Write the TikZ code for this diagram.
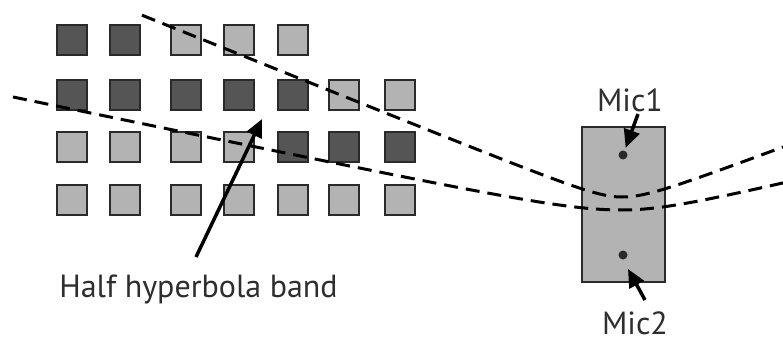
\documentclass[tikz,border=0pt]{standalone}
\usepackage{fontspec}
\setmainfont{PT Sans}
\usetikzlibrary{arrows.meta}
\definecolor{darkcell}{HTML}{555555}
\definecolor{lightcell}{HTML}{B3B3B3}
\definecolor{edgegray}{HTML}{2A2A2A}
\definecolor{textcol}{HTML}{2E2E2E}
\begin{document}
\begin{tikzpicture}[x=1pt,y=-1pt,
  cell/.style={draw=edgegray,line width=1.6pt,minimum size=29.5pt,inner sep=0pt},
  band/.style={line width=3pt,dash pattern=on 14pt off 8pt,black},
  lbl/.style={font=\fontsize{32}{36}\selectfont,text=textcol,inner sep=0pt},
  pointer/.style={line width=3.5pt,-{Triangle[length=18pt,width=16pt]}}]
\useasboundingbox (0,0) rectangle (783,342);
% grid of squares
\foreach \r/\y/\spec in {1/40/{darkcell,darkcell,lightcell,lightcell,lightcell},
                         2/95/{darkcell,darkcell,darkcell,darkcell,darkcell,lightcell,lightcell},
                         3/147/{lightcell,lightcell,lightcell,lightcell,darkcell,darkcell,darkcell},
                         4/200/{lightcell,lightcell,lightcell,lightcell,lightcell,lightcell,lightcell}}{
  \foreach \s [count=\c] in \spec {
    \pgfmathsetmacro\xx{{72,125,186,239,293,344,400}[\c-1]}
    \node[cell,fill=\s] (sq\r\c) at (\xx,\y) {};
  }
}
% phone box
\node[draw=edgegray,fill=lightcell,line width=1.4pt,minimum width=83pt,minimum height=155pt,inner sep=0pt] (phone) at (623.5,204.5) {};
% hyperbola band
\draw[band] plot[domain=142:622,samples=80] (\x,{197-100*(veclen(0.12,0.403*(\x-622)/100)-0.12)})
  -- plot[domain=622:783,samples=30] (\x,{197-100*(veclen(0.12,0.378*(\x-622)/100)-0.12)});
\draw[band] plot[domain=13:622,samples=90] (\x,{210-100*(veclen(0.1447,0.208*(\x-622)/100)-0.1447)})
  -- plot[domain=622:783,samples=30] (\x,{210-100*(veclen(0.1447,0.242*(\x-622)/100)-0.1447)});
% microphones
\node[circle,fill=edgegray,minimum size=9pt,inner sep=0pt] (m1) at (623,155) {};
\node[circle,fill=edgegray,minimum size=9pt,inner sep=0pt] (m2) at (623,255) {};
% labels
\node[lbl] (t1) at (630,100) {Mic1};
\node[lbl] (t2) at (635,323) {Mic2};
\node[lbl,anchor=base] (bandlbl) at (198.5,297) {Half hyperbola band};
% pointers
\coordinate (a1s) at (638,114);
\coordinate (a2s) at (645,300);
\coordinate (a2t) at (628,269);
\coordinate (bs) at (196,257);
\coordinate (bt) at (262,119);
\draw[pointer,shorten >=3pt] (a1s) -- (m1);
\draw[pointer] (a2s) -- (a2t);
\draw[pointer] (bs) -- (bt);
\end{tikzpicture}
\end{document}
